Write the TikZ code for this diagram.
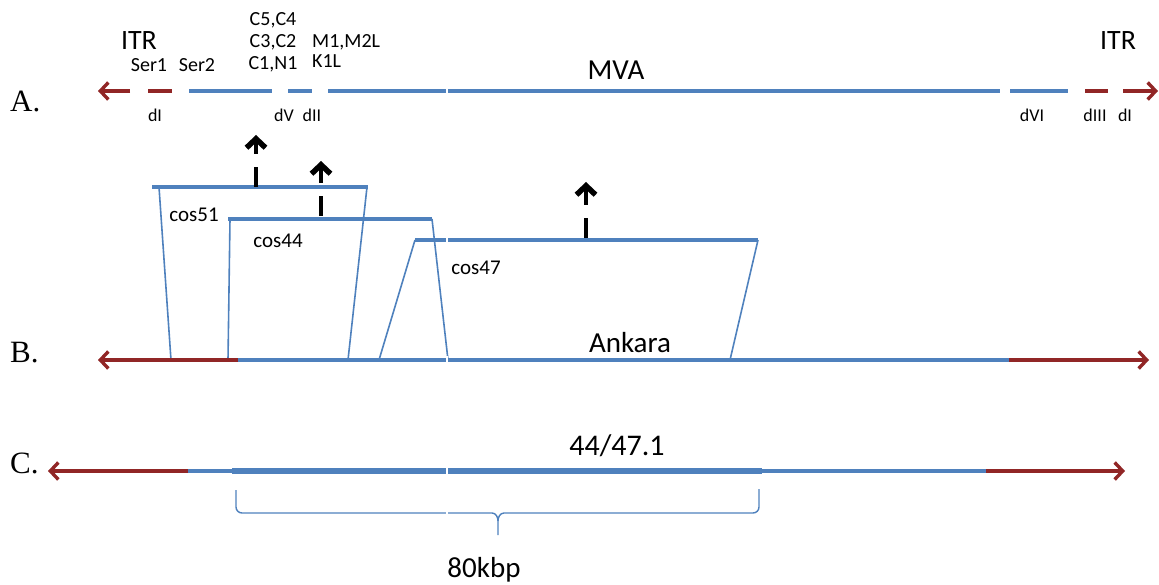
\documentclass[tikz,border=0pt]{standalone}
\usepackage{fontspec}
\setmainfont{Carlito}
\newfontfamily\rowfont{Liberation Serif}
\usetikzlibrary{arrows.meta}

\definecolor{mvablue}{RGB}{79,129,189}
\definecolor{itrred}{RGB}{145,38,38}

\begin{document}
\begin{tikzpicture}[
  x=1pt, y=-1pt,
  genome/.style={mvablue, line width=3.4pt},
  genome-thick/.style={mvablue, line width=5.5pt},
  itr/.style={itrred, line width=3.4pt},
  itr-end/.style={itr, -{Straight Barb[length=8pt, width=17pt]}},
  leg/.style={mvablue, line width=1.6pt},
  brace-line/.style={mvablue, line width=1.4pt},
  site/.style={line width=4.5pt, dash pattern=on 20pt off 13pt on 40pt,
               -{Straight Barb[length=9pt, width=19pt, line width=5.5pt]}},
  lbl/.style={inner sep=0pt, anchor=base, font=\fontsize{20}{22}\selectfont},
  small-lbl/.style={lbl, font=\fontsize{18}{20}\selectfont},
  big-lbl/.style={lbl, font=\fontsize{29}{32}\selectfont},
  row-lbl/.style={inner sep=0pt, anchor=base west, font=\rowfont\fontsize{31}{34}\selectfont}
]
  \useasboundingbox (0,0) rectangle (1159,585);

  % ===========================================================
  % row letters
  % ===========================================================
  \node[row-lbl] (rowA) at (10,112) {A.};
  \node[row-lbl] (rowB) at (10,362) {B.};
  \node[row-lbl] (rowC) at (10,473) {C.};

  % ===========================================================
  % A. MVA genome with deletions
  % ===========================================================
  \coordinate (A-tipL) at (98,91);
  \coordinate (A-tipR) at (1158,91);
  \draw[itr-end] (130,91) -- (A-tipL);
  \draw[itr] (148,91) -- (172,91);
  \draw[genome] (189,91) -- (272,91);
  \draw[genome] (288,91) -- (312,91);
  \draw[genome] (328,91) -- (1000,91);
  \draw[genome] (1010,91) -- (1068,91);
  \draw[itr] (1085,91) -- (1108,91);
  \draw[itr-end] (1123,91) -- (A-tipR);

  \node[big-lbl, font=\fontsize{28}{30}\selectfont] (itrL) at (139,50) {ITR};
  \node[big-lbl, font=\fontsize{28}{30}\selectfont] (itrR) at (1118,50) {ITR};
  \node[lbl] (ser1) at (149,72) {Ser1};
  \node[lbl] (ser2) at (197,72) {Ser2};
  \node[lbl] (gC54) at (273,26) {C5,C4};
  \node[lbl] (gC32) at (273,48) {C3,C2};
  \node[lbl] (gC1N1) at (273,70) {C1,N1};
  \node[lbl, anchor=base west] (gM1) at (312,48) {M1,M2L};
  \node[lbl, anchor=base west] (gK1L) at (312,68) {K1L};
  \node[big-lbl] (mva) at (616,80) {MVA};

  \node[small-lbl] (delI) at (155,122) {dI};
  \node[small-lbl] (delV) at (284,122) {dV};
  \node[small-lbl] (delII) at (312,122) {dII};
  \node[small-lbl] (delVI) at (1032,122) {dVI};
  \node[small-lbl] (delIII) at (1095,122) {dIII};
  \node[small-lbl] (delIb) at (1125,122) {dI};

  % ===========================================================
  % cosmids mapped onto Ankara
  % ===========================================================
  \draw[genome] (152,187) -- (368,187);
  \draw[leg] (159,187) -- (171,360);
  \draw[leg] (367,187) -- (348,360);
  \node[lbl, font=\fontsize{21}{23}\selectfont] (cos51) at (194,222) {cos51};

  \draw[genome] (228,219) -- (432,219);
  \draw[leg] (230,219) -- (228,360);
  \draw[leg] (432,219) -- (448,360);
  \node[lbl, font=\fontsize{21}{23}\selectfont] (cos44) at (278,248) {cos44};

  \draw[genome] (415,240) -- (758,240);
  \draw[leg] (415,240) -- (379,360);
  \draw[leg] (758,240) -- (730,360);
  \node[lbl, font=\fontsize{21}{23}\selectfont] (cos47) at (476,275) {cos47};

  % insertion sites
  \draw[site] (256,187) -- (256,135);
  \draw[site] (321,216) -- (321,161);
  \draw[site] (586,238) -- (586,182);

  % ===========================================================
  % B. Ankara
  % ===========================================================
  \coordinate (B-tipL) at (98,360);
  \coordinate (B-tipR) at (1149,360);
  \draw[genome] (238,360) -- (1009,360);
  \draw[itr-end] (238,360) -- (B-tipL);
  \draw[itr-end] (1009,360) -- (B-tipR);
  \node[big-lbl] (ankara) at (630,352) {Ankara};

  % ===========================================================
  % C. recombinant 44/47.1
  % ===========================================================
  \coordinate (C-tipL) at (48,471);
  \coordinate (C-tipR) at (1125,471);
  \draw[genome] (188,471) -- (986,471);
  \draw[genome-thick] (232,471) -- (762,471);
  \draw[itr-end] (188,471) -- (C-tipL);
  \draw[itr-end] (986,471) -- (C-tipR);
  \node[big-lbl, font=\fontsize{30}{32}\selectfont] (recomb) at (617,455) {44/47.1};

  \draw[brace-line] (236,490) -- (236,507) to[out=-90, in=180] (242,513)
    -- (492,513) to[out=0, in=90] (498,521) -- (498,535);
  \draw[brace-line] (498,521) to[out=90, in=180] (504,513)
    -- (753,513) to[out=0, in=-90] (759,507) -- (759,489);
  \node[big-lbl] (kbp) at (484,577) {80kbp};

  % white seam through the lines
  \foreach \yy in {91,240,360,471,513}
    \draw[white, line width=2pt] (447,\yy-4) -- (447,\yy+4);

\end{tikzpicture}
\end{document}
